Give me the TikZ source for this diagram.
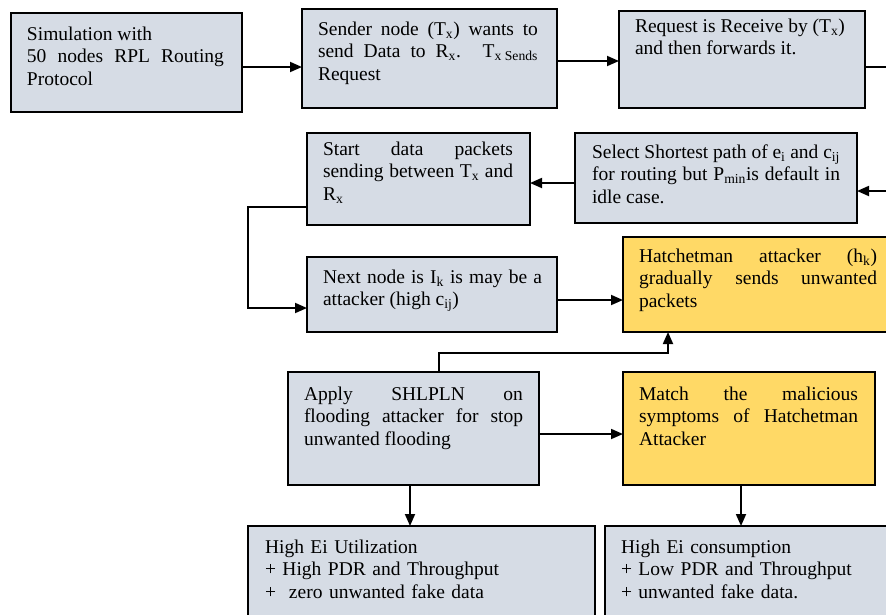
\documentclass[tikz,border=0pt]{standalone}
\usepackage{fontspec}
\setmainfont{Liberation Serif}
\usetikzlibrary{arrows.meta}
\definecolor{boxgray}{RGB}{214,220,229}
\definecolor{boxyellow}{RGB}{255,217,102}
\begin{document}
\begin{tikzpicture}[x=1pt,y=-1pt,
  box/.style={draw=black, line width=2.2pt, anchor=north west, inner sep=0pt, outer sep=0pt},
  gbox/.style={box, fill=boxgray},
  ybox/.style={box, fill=boxyellow},
  txt/.style={anchor=base west, inner sep=0pt, outer sep=0pt, align=justify, font=\fontsize{19.5}{22.5}\selectfont},
  conn/.style={line width=1.8pt, -{Triangle[length=12pt,width=10pt]}}
]
\fill[white] (0,0) rectangle (886,614);
\useasboundingbox (0,0) rectangle (886,614);

% boxes
\node[gbox, minimum width=231pt, minimum height=99pt] (b1) at (11,13) {};
\node[gbox, minimum width=255pt, minimum height=99pt] (b2) at (302,9) {};
\node[gbox, minimum width=246pt, minimum height=97pt] (b3) at (619,11) {};
\node[gbox, minimum width=282pt, minimum height=90pt] (b4) at (575,133) {};
\node[gbox, minimum width=223pt, minimum height=92pt] (b5) at (307,133) {};
\node[gbox, minimum width=250pt, minimum height=75pt] (b6) at (307,257) {};
\node[ybox, minimum width=272pt, minimum height=95pt] (b7) at (623,237) {};
\node[gbox, minimum width=251pt, minimum height=113pt] (b8) at (288,372) {};
\node[ybox, minimum width=252pt, minimum height=113pt] (b9) at (623,372) {};
\node[gbox, minimum width=347pt, minimum height=110pt] (b10) at (248,526) {};
\node[gbox, minimum width=290pt, minimum height=110pt] (b11) at (605,526) {};

% texts
\node[txt, text width=197pt] (t1) at (27,40) {Simulation with\newline 50 nodes RPL Routing\linebreak Protocol};
\node[txt, text width=220pt] (t2) at (318,35) {Sender node (T\textsubscript{x}) wants to\linebreak send Data to R\textsubscript{x}. T\textsubscript{x Sends}\linebreak Request};
\node[txt, text width=214pt] (t3) at (635,32) {Request is Receive by (T\textsubscript{x})\newline and then forwards it.};
\node[txt, text width=248pt] (t4) at (592,158) {Select Shortest path of e\textsubscript{i} and c\textsubscript{ij}\linebreak for routing but P\textsubscript{min}is default in\linebreak idle case.};
\node[txt, text width=190pt] (t5) at (323,155) {Start data packets\linebreak sending between T\textsubscript{x} and\linebreak R\textsubscript{x}};
\node[txt, text width=219pt] (t6) at (323,283) {Next node is I\textsubscript{k} is may be a\linebreak attacker (high c\textsubscript{ij})};
\node[txt, text width=238pt] (t7) at (639,262) {Hatchetman attacker (h\textsubscript{k})\linebreak gradually sends unwanted\linebreak packets};
\node[txt, text width=219pt] (t8) at (304,400) {Apply SHLPLN on\linebreak flooding attacker for stop\linebreak unwanted flooding};
\node[txt, text width=219pt] (t9) at (639,400) {Match the malicious\linebreak symptoms of Hatchetman\linebreak Attacker};
\node[txt, text width=300pt, align=left] (t10) at (265,553) {High Ei Utilization\\+ High PDR and Throughput\\+\ \ zero unwanted fake data};
\node[txt, text width=260pt, align=left] (t11) at (621,553) {High Ei consumption\\+ Low PDR and Throughput\\+ unwanted fake data.};

% connectors
\draw[conn] (b1.east |- 0,67) -- (b2.west |- 0,67);
\draw[conn] (b2.east |- 0,61) -- (b3.west |- 0,61);
\draw[conn] (b3.east |- 0,67) -- (898,67) -- (898,191) -- (b4.east |- 0,191);
\draw[conn] (b4.west |- 0,183) -- (b5.east |- 0,183);
\draw[conn] (b5.west |- 0,207) -- (248,207) -- (248,308) -- (b6.west |- 0,308);
\draw[conn] (b6.east |- 0,300) -- (b7.west |- 0,300);
\draw[conn] (b8.north -| 439,0) -- (439,353) -- (668,353) -- (b7.south -| 668,0);
\draw[conn] (b8.east |- 0,434) -- (b9.west |- 0,434);
\draw[conn] (b8.south -| 410,0) -- (b10.north -| 410,0);
\draw[conn] (b9.south -| 741,0) -- (b11.north -| 741,0);
\end{tikzpicture}
\end{document}
